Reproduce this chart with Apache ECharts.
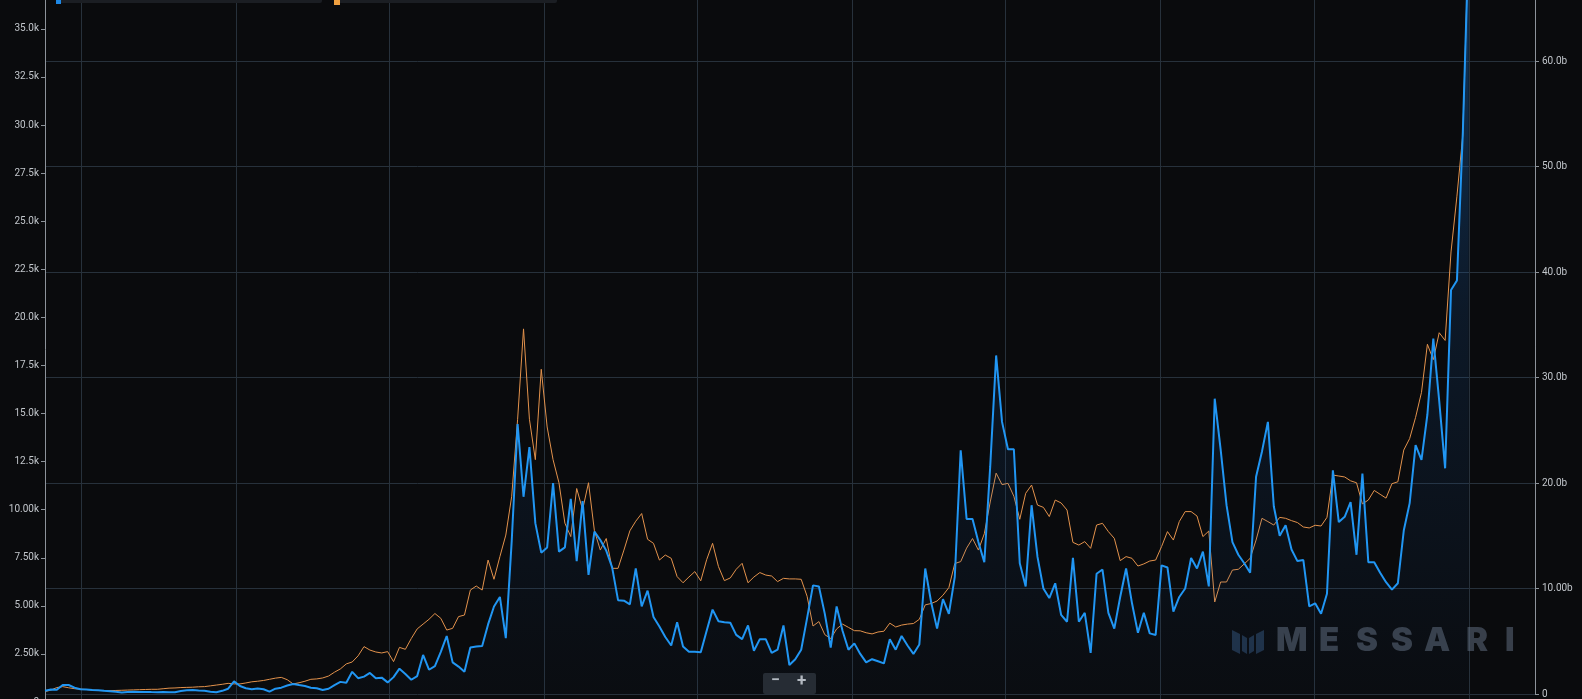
<!DOCTYPE html>
<html><head><meta charset="utf-8">
<script src="https://cdn.jsdelivr.net/npm/echarts@6/dist/echarts.min.js"></script>
<style>html,body{margin:0;padding:0;background:#0a0b0d;overflow:hidden}#chart{width:1582px;height:699px}</style>
</head><body><div id="chart"></div>
<script>
// ---- data (weekly) ----
const firstWeek = '2016-05-19';
const priceK = [
0.54,0.62,0.75,0.8,0.74,0.69,0.67,0.65,0.62,0.6,
0.59,0.59,0.6,0.61,0.62,0.63,0.64,0.65,0.66,0.66,
0.69,0.72,0.73,0.75,0.76,0.77,0.79,0.8,0.84,0.88,
0.92,0.97,0.94,0.94,0.99,1.05,1.08,1.12,1.18,1.24,
1.28,1.16,0.94,1.0,1.08,1.18,1.2,1.25,1.35,1.55,
1.72,1.98,2.08,2.4,2.88,2.7,2.6,2.55,2.62,2.1,
2.84,2.74,3.3,3.8,4.05,4.3,4.6,4.35,3.74,3.83,
4.44,4.52,5.82,6.03,5.82,7.38,6.38,7.56,8.68,10.7,
14.7,19.4,14.7,12.6,17.3,14.3,12.6,11.4,9.3,8.6,
11.1,10.0,11.4,8.9,7.9,8.5,6.95,6.95,7.9,8.9,
9.4,9.8,8.46,8.25,7.38,7.64,7.47,6.52,6.2,6.5,
6.78,6.3,7.4,8.25,7.04,6.31,6.45,6.9,7.21,6.2,
6.5,6.73,6.6,6.55,6.26,6.43,6.4,6.4,6.38,5.5,
3.95,4.18,3.5,3.3,3.8,4.05,3.88,3.71,3.7,3.6,
3.54,3.64,3.68,4.1,3.9,4.0,4.05,4.08,4.3,5.05,
5.12,5.25,5.55,5.95,7.2,7.3,8.0,8.5,7.9,8.75,
10.4,11.9,11.3,11.37,10.7,9.5,10.85,11.28,10.24,10.12,
9.64,10.5,10.35,9.98,8.3,8.16,8.34,7.99,9.2,9.29,
8.86,8.51,7.35,7.56,7.47,7.07,7.18,7.33,7.38,8.08,
8.86,8.42,9.38,9.9,9.9,9.67,8.6,8.89,5.2,6.24,
6.24,6.86,6.9,7.18,7.47,8.42,9.55,9.38,9.2,9.6,
9.55,9.43,9.33,9.1,9.05,9.19,9.15,9.6,11.8,11.75,
11.7,11.5,11.4,10.3,10.5,11.0,10.8,10.6,11.35,11.45,
13.1,13.7,14.8,16.1,18.6,17.8,19.2,18.8,23.4,26.3,
29.5,40
];
const volumeB = [
0.3,0.42,0.4,0.85,0.85,0.6,0.45,0.42,0.38,0.35,
0.3,0.26,0.22,0.14,0.18,0.22,0.2,0.2,0.18,0.17,
0.18,0.16,0.17,0.28,0.36,0.38,0.33,0.31,0.22,0.16,
0.3,0.5,1.2,0.76,0.55,0.45,0.52,0.45,0.22,0.5,
0.6,0.8,0.95,0.85,0.76,0.6,0.54,0.38,0.5,0.85,
1.15,1.07,2.1,1.5,1.65,2.0,1.5,1.55,1.1,1.6,
2.4,1.9,1.35,1.7,3.7,2.3,2.65,4.0,5.5,3.0,
2.6,2.1,4.4,4.5,4.55,6.6,8.3,9.2,5.3,14.5,
25.6,18.7,23.4,16.2,13.4,13.9,20.0,13.5,13.9,18.5,
12.6,18.3,11.3,15.4,14.6,13.6,12.0,8.9,8.85,8.5,
11.9,8.3,9.8,7.3,6.4,5.4,4.6,6.8,4.5,4.0,
4.0,3.95,6.0,8.0,6.9,6.8,6.75,5.6,5.2,6.5,
4.1,5.2,5.2,3.9,4.2,6.5,2.75,3.3,4.2,7.2,
10.3,10.2,7.6,4.4,8.3,6.0,4.2,4.8,3.8,3.0,
3.3,3.1,2.9,5.2,4.2,5.5,4.6,3.8,4.7,11.9,
8.7,6.2,9.0,7.6,11.1,23.1,16.6,16.6,14.4,12.5,
21.6,32.1,25.8,23.2,23.2,12.4,10.2,17.9,13.0,10.0,
9.1,10.5,7.5,6.85,12.9,6.85,7.7,3.9,11.4,11.8,
7.7,6.2,9.2,11.9,8.6,5.8,7.7,5.75,5.6,12.2,
12.0,7.8,9.2,10.0,12.9,11.9,13.5,10.2,28.0,23.2,
17.9,14.4,13.2,12.4,11.5,20.6,23.0,25.8,17.8,15.0,
16.0,13.7,12.6,12.7,8.3,8.6,7.6,9.5,21.2,16.3,
16.8,18.2,13.2,20.9,12.5,12.5,11.5,10.6,9.9,10.5,
15.5,18.1,23.6,22.2,26.5,33.7,27.8,21.4,38.3,39.2,
53.3,72
];
const gridLineDates = ['2016-07-01','2017-01-01','2017-07-01','2018-01-01','2018-07-01',
  '2019-01-01','2019-07-01','2020-01-01','2020-07-01','2021-01-01'];
const axisStart = '2016-05-19';
const axisEnd = '2021-03-19T12:00:00Z';
const watermarkLetters = ['M','E','S','S','A','R','I'];

// ---- chart ----
const DAY = 86400000;
const t0 = Date.parse(firstWeek);
const weekTimes = priceK.map((_, i) => t0 + i * 7 * DAY);
const priceData = priceK.map((v, i) => [weekTimes[i], v]);
const volumeData = volumeB.map((v, i) => [weekTimes[i], v]);

function fmtK(v){ if (v === 0) return '0'; return (v <= 10 ? v.toFixed(2) : v.toFixed(1)) + 'k'; }
function fmtB(v){ if (v === 0) return '0'; return (v <= 10 ? v.toFixed(2) : v.toFixed(1)) + 'b'; }

const axisColor = '#8d939a';
const labelStyle = {color:'#c2c6cb', fontSize:10, fontFamily:'Roboto'};
const gridColor = '#27313b';

const letterX = [1276,1319,1356,1391,1424,1466,1505];
const wmGraphics = watermarkLetters.map((ch, i) => ({
  type:'text', left: letterX[i], top: 625, z: 50, silent:true,
  style:{text: ch, fill:'rgba(95,108,125,0.55)', font:'900 33px Inter'}
}));

const chart = echarts.init(document.getElementById('chart'), null, {renderer:'canvas'});
chart.setOption({
  backgroundColor:'#0a0b0d',
  animation:false,
  grid:[
    {left:45, right:47, top:0, height:702, outerBoundsMode:'none', containLabel:false},
    {left:45, right:47, top:0, height:694, outerBoundsMode:'none', containLabel:false}
  ],
  xAxis:[
    {type:'time', gridIndex:0, min:Date.parse(axisStart), max:Date.parse(axisEnd), show:false},
    {type:'time', gridIndex:1, min:Date.parse(axisStart), max:Date.parse(axisEnd), show:false}
  ],
  yAxis:[
    {type:'value', gridIndex:0, position:'left', min:0, max:36.5, interval:2.5,
     axisLine:{show:true, lineStyle:{color:axisColor, width:1}},
     axisTick:{show:true, length:4, lineStyle:{color:axisColor}},
     axisLabel:Object.assign({margin:6, showMaxLabel:false, formatter:fmtK}, labelStyle),
     splitLine:{show:false}},
    {type:'value', gridIndex:1, position:'right', min:0, max:65.8, interval:10,
     axisLine:{show:true, lineStyle:{color:axisColor, width:1}},
     axisTick:{show:true, length:4, lineStyle:{color:axisColor}},
     axisLabel:Object.assign({margin:7, showMaxLabel:false, formatter:fmtB}, labelStyle),
     splitLine:{show:true, showMaxLine:false, lineStyle:{color:gridColor, width:1}}}
  ],
  series:[
    {name:'Price', type:'line', xAxisIndex:0, yAxisIndex:0, data:priceData,
     symbol:'none', z:2, lineStyle:{color:'#e3924c', width:1},
     markLine:{silent:true, symbol:['none','none'], z:1, animation:false,
       label:{show:false}, lineStyle:{color:gridColor, width:1, type:'solid'},
       emphasis:{disabled:true},
       data: gridLineDates.map(d => ({xAxis: Date.parse(d)}))}},
    {name:'Volume', type:'line', xAxisIndex:1, yAxisIndex:1, data:volumeData,
     symbol:'none', z:3, lineStyle:{color:'#2196f3', width:2},
     areaStyle:{color:{type:'linear', x:0, y:0, x2:0, y2:694, global:true, colorStops:[
       {offset:0, color:'rgba(30,130,230,0.50)'},
       {offset:0.45, color:'rgba(28,110,205,0.20)'},
       {offset:0.8, color:'rgba(22,85,165,0.12)'},
       {offset:1, color:'rgba(20,60,120,0.06)'}]}}}
  ],
  graphic:[
    {type:'rect', shape:{x:56, y:-6, width:266, height:9, r:2}, style:{fill:'#1b1e23'}, z:40},
    {type:'rect', shape:{x:56, y:-4, width:5, height:8}, style:{fill:'#1e88e5'}, z:41},
    {type:'rect', shape:{x:334, y:-6, width:223, height:9, r:2}, style:{fill:'#1b1e23'}, z:40},
    {type:'rect', shape:{x:334, y:-4, width:6, height:9}, style:{fill:'#f0a040'}, z:41},
    {type:'polygon', shape:{points:[[1232,630],[1240,634],[1240,654],[1232,650]]}, style:{fill:'rgba(45,75,110,0.6)'}, z:50},
    {type:'polygon', shape:{points:[[1242,635],[1247,638],[1247,654],[1242,651]]}, style:{fill:'rgba(45,75,110,0.6)'}, z:50},
    {type:'polygon', shape:{points:[[1249,638],[1254,635],[1254,651],[1249,654]]}, style:{fill:'rgba(45,75,110,0.6)'}, z:50},
    {type:'polygon', shape:{points:[[1256,634],[1264,630],[1264,650],[1256,654]]}, style:{fill:'rgba(45,75,110,0.6)'}, z:50},
    {type:'rect', shape:{x:763, y:673, width:53, height:21, r:2}, style:{fill:'#262c34'}, z:60},
    {type:'text', left:771, top:673, z:61, style:{text:'\u2212', fill:'#b4bac2', font:'bold 16px Roboto'}},
    {type:'text', left:797, top:673, z:61, style:{text:'+', fill:'#b4bac2', font:'bold 17px Roboto'}}
  ].concat(wmGraphics)
});
</script></body></html>
